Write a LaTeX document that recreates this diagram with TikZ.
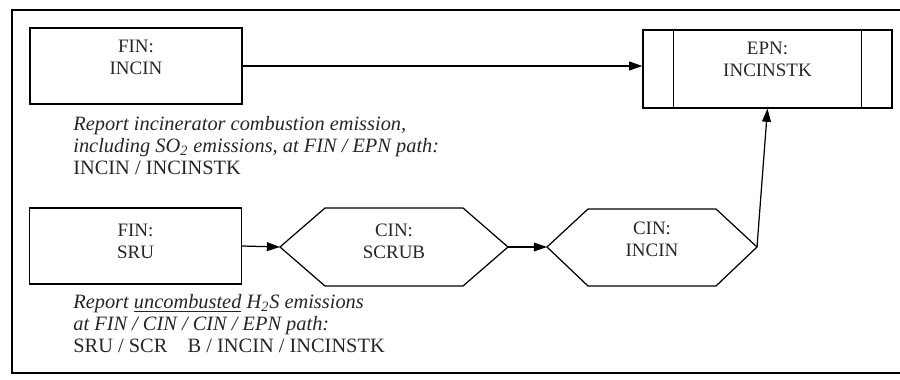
\documentclass[tikz,border=0pt]{standalone}
\usepackage{fontspec}
\setmainfont{Liberation Serif}
\usetikzlibrary{arrows.meta}
\begin{document}
\begin{tikzpicture}[x=0.02cm,y=-0.02cm,
    every node/.style={font=\fontsize{10.8}{12.5}\selectfont, align=center, text=black!85},
    finbox/.style={draw, line width=0.7pt, minimum width=4.24cm, minimum height=1.52cm},
    note/.style={anchor=north west, align=left, inner sep=0pt, font=\fontsize{11.6}{12.4}\selectfont},
    flow/.style={-{Triangle[length=7.5pt,width=5pt]}, line width=0.7pt}]
    \useasboundingbox (0,0) rectangle (900,379);
    % frame
    \draw[line width=0.8pt] (905,10) -- (12,10) -- (12,373) -- (905,373);

    \node[finbox] (incin) at (136,66) {};
    \node (incintxt) at (136,57) {FIN:\\INCIN};
    \node[finbox] (sru) at (135.5,246) {};
    \node (srutxt) at (135.5,241) {FIN:\\SRU};
    \node[finbox, minimum width=4.98cm, minimum height=1.56cm] (epn) at (767.5,69) {};
    \node (epntxt) at (767.5,59) {EPN:\\INCINSTK};
    \draw[line width=0.7pt] ([xshift=0.62cm]epn.north west) -- ([xshift=0.62cm]epn.south west);
    \draw[line width=0.7pt] ([xshift=-0.62cm]epn.north east) -- ([xshift=-0.62cm]epn.south east);

    % hexagons
    \coordinate (scrubW) at (280,247);
    \coordinate (scrubE) at (508,247);
    \draw[line width=0.7pt] (scrubW) -- (325,208) -- (463,208) -- (scrubE) -- (463,286) -- (325,286) -- cycle;
    \node (scrub) at (394,241) {CIN:\\SCRUB};
    \coordinate (cinW) at (547,247);
    \coordinate (cinE) at (757,247);
    \draw[line width=0.7pt] (cinW) -- (588,209) -- (716,209) -- (cinE) -- (716,286) -- (588,286) -- cycle;
    \node (cin) at (652,239) {CIN:\\INCIN};

    \draw[flow] (incin.east) -- (incin.east -| epn.west);
    \draw[flow] (sru.east) -- (scrubW);
    \draw[flow] (scrubE) -- (cinW);
    \draw[flow] (cinE) -- (epn.south);

    % notes
    \node[note] (note1) at (73,116)
        {\textit{Report incinerator combustion emission,}\\
         \textit{including SO\textsubscript{2} emissions, at FIN / EPN path:}\\
         INCIN / INCINSTK};
    \node[note] (note2) at (73,294)
        {\textit{Report \underline{uncombusted} H\textsubscript{2}S emissions}\\
         \textit{at FIN / CIN / CIN / EPN path:}\\
         SRU / SCR\quad B / INCIN / INCINSTK};
\end{tikzpicture}
\end{document}
